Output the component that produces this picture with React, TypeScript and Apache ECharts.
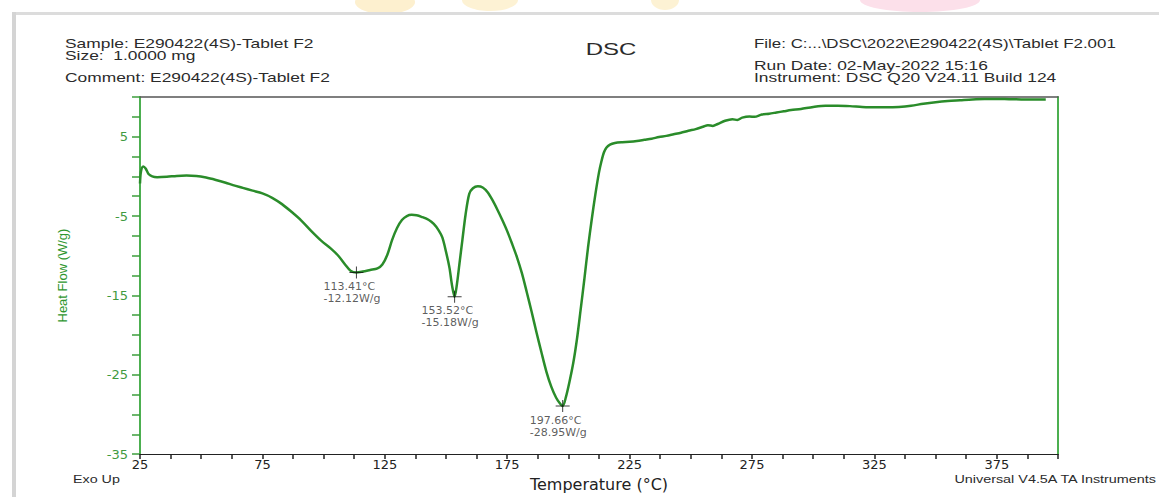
import React, { useEffect, useRef } from 'react';
import * as echarts from 'echarts';

// DSC trace: temperature (°C) and heat flow (W/g)
const temperature = [
  25.0, 25.4, 26.3, 27.3, 28.5, 30, 32, 36, 40, 44, 48, 52, 56, 60, 63, 67, 71, 75, 79, 83, 87, 91, 95, 99,
  103, 106, 109, 111, 113.41, 116, 119, 122, 124, 126, 128, 130, 132, 134, 136, 138, 140, 143, 145, 147,
  148.5, 150, 151.4, 152.5, 153.52, 154.5, 155.5, 156.7, 158, 159.5, 161, 163, 165, 167, 169, 171, 173,
  175, 177, 179, 181, 183, 185, 187, 189, 191, 193, 195, 196.5, 197.66, 199, 200.3, 202, 203.5, 205,
  206.5, 208, 209.5, 211, 212.5, 213.5, 214.5, 215.5, 217, 219, 222, 225, 228, 231, 234, 237, 240, 243,
  246, 249, 252, 255, 257, 259, 261, 264, 267, 269, 271, 274, 276, 279, 282, 285, 288, 291, 295, 300,
  305, 310, 315, 320, 325, 330, 335, 340, 345, 350, 355, 360, 365, 370, 375, 380, 385, 390, 395,
];
const heatFlow = [
  -0.9, 0.6, 1.25, 1.0, 0.3, 0.0, -0.1, -0.05, 0.05, 0.1, 0.05, -0.15, -0.45, -0.8, -1.1, -1.45, -1.8,
  -2.15, -2.7, -3.5, -4.5, -5.6, -6.9, -8.1, -9.1, -10.0, -11.2, -11.9, -12.12, -12.0, -11.8, -11.6,
  -11.1, -9.9, -8.0, -6.5, -5.5, -5.0, -4.85, -4.9, -5.1, -5.5, -6.0, -6.8, -7.7, -9.5, -11.5, -13.8,
  -15.18, -13.5, -11.0, -8.0, -4.8, -2.2, -1.5, -1.25, -1.4, -2.0, -3.0, -4.2, -5.5, -6.9, -8.5, -10.2,
  -12.2, -14.6, -17.1, -19.7, -22.2, -24.6, -26.5, -27.9, -28.6, -28.95, -27.8, -26.1, -23.5, -20.5,
  -16.8, -13.0, -9.0, -5.5, -2.3, 0.5, 1.9, 3.0, 3.6, 4.0, 4.2, 4.3, 4.35, 4.45, 4.6, 4.75, 4.95, 5.1,
  5.3, 5.5, 5.75, 5.95, 6.25, 6.45, 6.35, 6.6, 7.0, 7.2, 7.1, 7.4, 7.55, 7.5, 7.8, 7.9, 8.05, 8.2, 8.35,
  8.5, 8.75, 8.9, 8.9, 8.85, 8.75, 8.7, 8.7, 8.75, 8.9, 9.15, 9.35, 9.5, 9.6, 9.7, 9.75, 9.75, 9.72,
  9.7, 9.7, 9.7,
];

// Peak annotations
const peakTemps = [113.41, 153.52, 197.66];
const peakFlows = [-12.12, -15.18, -28.95];

// Tick labels
const xTickLabels = [25, 75, 125, 175, 225, 275, 325, 375];
const yTickLabels = [5, -5, -15, -25, -35];

// Header texts
const headerLeft = ['Sample: E290422(4S)-Tablet F2', 'Size:  1.0000 mg', 'Comment: E290422(4S)-Tablet F2'];
const headerRight = [
  'File: C:...\\DSC\\2022\\E290422(4S)\\Tablet F2.001',
  'Run Date: 02-May-2022 15:16',
  'Instrument: DSC Q20 V24.11 Build 124',
];
const titleText = 'DSC';
const footerLeft = 'Exo Up';
const footerRight = 'Universal V4.5A TA Instruments';
const xName = 'Temperature (°C)';
const yName = 'Heat Flow (W/g)';

const GREEN = '#2a8c2a';
const AXIS_GREEN = '#4caf50';
const TEXT = '#2b2b2b';
const SANS = '"Liberation Sans", Arial, sans-serif';
const WIDE = '"DejaVu Sans", sans-serif';

function hdr(text: string, x: number, y: number, size = 12, align = 'left', sx = 1.45) {
  return {
    type: 'text',
    x,
    y,
    scaleX: sx,
    silent: true,
    style: { text, fontSize: size, fontFamily: SANS, fill: TEXT, align, verticalAlign: 'middle' },
  };
}

export default function App() {
  const ref = useRef<HTMLDivElement>(null);

  useEffect(() => {
    if (!ref.current) return;
    const chart = echarts.init(ref.current, null, { renderer: 'svg' });
    const lineData = temperature.map((t, i) => [t, heatFlow[i]]);
    const peakData = peakTemps.map((t, i) => [t, peakFlows[i]]);

    chart.setOption({
      animation: false,
      backgroundColor: '#ffffff',
      grid: { left: 140, top: 97, right: 101, bottom: 42 },
      graphic: [
        // faint watermark blobs above the frame
        { type: 'ellipse', silent: true, shape: { cx: 385, cy: 2, rx: 30, ry: 12 }, style: { fill: '#fdf0cf' } },
        { type: 'ellipse', silent: true, shape: { cx: 490, cy: 0, rx: 28, ry: 11 }, style: { fill: '#fdf2d4' } },
        { type: 'ellipse', silent: true, shape: { cx: 665, cy: 0, rx: 14, ry: 10 }, style: { fill: '#fdf2d4' } },
        { type: 'ellipse', silent: true, shape: { cx: 920, cy: 0, rx: 60, ry: 12 }, style: { fill: '#fce0ea' } },
        // page frame
        { type: 'rect', silent: true, shape: { x: 12, y: 12, width: 1147, height: 3 }, style: { fill: '#dcdcdc' } },
        { type: 'rect', silent: true, shape: { x: 12, y: 12, width: 4, height: 485 }, style: { fill: '#d4d4d4' } },
        hdr(headerLeft[0], 65, 44),
        hdr(headerLeft[1], 65, 56),
        hdr(headerLeft[2], 65, 78),
        hdr(headerRight[0], 754, 44, 12, 'left', 1.41),
        hdr(headerRight[1], 754, 66),
        hdr(headerRight[2], 754, 78),
        hdr(titleText, 611, 50, 16, 'center', 1.5),
        hdr(footerLeft, 73, 480, 10, 'left', 1.43),
        hdr(footerRight, 1156, 480, 10, 'right', 1.44),
      ],
      xAxis: [
        {
          type: 'value',
          min: 25,
          max: 400,
          interval: 12.5,
          splitLine: { show: false },
          axisLine: { show: true, onZero: false, lineStyle: { color: '#222', width: 1 } },
          axisTick: { show: true, inside: false, length: 5, lineStyle: { color: '#222', width: 1.5 } },
          axisLabel: {
            margin: 4,
            color: '#222',
            fontSize: 13,
            fontFamily: WIDE,
            formatter: (v: number) => (xTickLabels.includes(v) ? String(v) : ''),
          },
          name: xName,
          nameLocation: 'middle',
          nameGap: 19,
          nameTextStyle: { fontSize: 16, fontFamily: WIDE, color: '#222' },
        },
        {
          type: 'value',
          position: 'top',
          min: 25,
          max: 400,
          splitLine: { show: false },
          axisLine: { show: true, onZero: false, lineStyle: { color: '#555', width: 1.5 } },
          axisTick: { show: false },
          axisLabel: { show: false },
        },
      ],
      yAxis: [
        {
          type: 'value',
          min: -35,
          max: 10,
          interval: 2.5,
          splitLine: { show: false },
          axisLine: { show: true, onZero: false, lineStyle: { color: AXIS_GREEN, width: 2 } },
          axisTick: { show: true, inside: false, length: 8, lineStyle: { color: '#3d9e3d', width: 1.5 } },
          axisLabel: {
            margin: 12,
            color: '#3f9a3f',
            fontSize: 13,
            fontFamily: WIDE,
            formatter: (v: number) => (yTickLabels.includes(v) ? String(v) : ''),
          },
          name: yName,
          nameLocation: 'middle',
          nameGap: 71,
          nameTextStyle: { fontSize: 13, fontFamily: SANS, color: '#2e962e' },
        },
        {
          type: 'value',
          position: 'right',
          min: -35,
          max: 10,
          splitLine: { show: false },
          axisLine: { show: true, onZero: false, lineStyle: { color: AXIS_GREEN, width: 2 } },
          axisTick: { show: false },
          axisLabel: { show: false },
        },
      ],
      series: [
        {
          type: 'line',
          data: lineData,
          showSymbol: false,
          smooth: 0.3,
          lineStyle: { color: GREEN, width: 2.5 },
          z: 3,
        },
        {
          type: 'scatter',
          data: peakData,
          symbol: 'path://M0,5.5H14V6.5H0Z M6.5,0H7.5V12H6.5Z',
          symbolSize: [14, 12],
          itemStyle: { color: '#111' },
          z: 4,
          label: {
            show: true,
            position: 'bottom',
            distance: 2,
            align: 'left',
            offset: [-33, 0],
            fontSize: 11,
            lineHeight: 12,
            fontFamily: WIDE,
            color: '#333',
            formatter: (p: any) => `${p.value[0].toFixed(2)}°C\n${p.value[1].toFixed(2)}W/g`,
          },
        },
      ],
    });

    return () => chart.dispose();
  }, []);

  return (
    <div
      ref={ref}
      style={{ position: 'absolute', left: 0, top: 0, width: 1159, height: 497, background: '#fff' }}
    />
  );
}
